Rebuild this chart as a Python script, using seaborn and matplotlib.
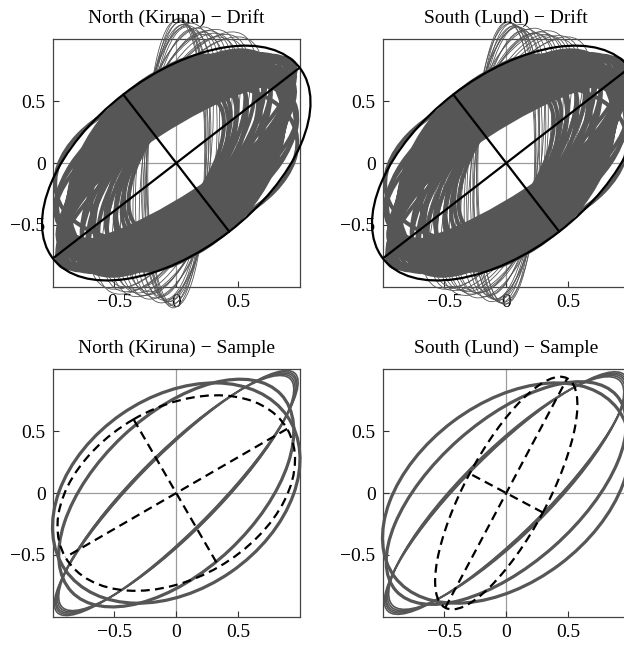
import numpy as np
import pandas as pd
import matplotlib
matplotlib.use("Agg")
import matplotlib.pyplot as plt
from matplotlib.patches import Ellipse
import seaborn as sns

# Drift band ellipses: semi-major, semi-minor, tilt of major axis (deg)
north_band_major = [1.10, 1.12, 1.09, 1.13, 1.11, 1.14, 1.10, 1.13, 1.12, 1.15, 1.11, 1.14,
                    1.12, 1.15, 1.10, 1.13, 1.11, 1.12, 1.09, 1.11, 1.08, 1.10, 1.07, 1.08,
                    1.05, 1.06, 1.04, 1.03, 1.02, 1.06, 1.05, 1.07, 1.00, 0.93, 1.08, 1.06,
                    1.25, 1.22, 1.20,
                    0.60, 0.68, 0.76, 0.84, 0.92, 1.00, 1.05, 0.65, 0.75, 0.85, 0.95,
                    1.20, 1.22, 1.18, 1.15, 1.12]
north_band_minor = [0.27, 0.285, 0.30, 0.31, 0.325, 0.34, 0.355, 0.37, 0.385, 0.40, 0.415, 0.43,
                    0.445, 0.46, 0.475, 0.49, 0.505, 0.52, 0.535, 0.55, 0.565, 0.58, 0.595, 0.61,
                    0.625, 0.64, 0.655, 0.67, 0.685, 0.50, 0.56, 0.45, 0.60, 0.60, 0.42, 0.48,
                    0.30, 0.34, 0.38,
                    0.28, 0.30, 0.31, 0.33, 0.35, 0.37, 0.40, 0.33, 0.36, 0.40, 0.44,
                    0.35, 0.40, 0.45, 0.50, 0.55]
north_band_tilt = [33, 33.5, 34, 34, 34.5, 35, 35, 35.5, 36, 36, 37, 37,
                   37.5, 38, 38.5, 39, 39.5, 40, 40, 41, 41, 42, 42, 43,
                   43, 44, 44, 45, 45, 26, 28, 27, 15, 62, 54, 51,
                   41, 40, 42,
                   60, 58, 56, 54, 52, 50, 48, 62, 60, 57, 54,
                   40, 42, 44, 45, 48]
# Drift loops: polarisation ellipses x = Ax cos t, y = Ay cos(t + phase)
north_loop_ax = [0.23, 0.24, 0.25, 0.27, 0.30, 0.35, 0.40, 0.45, 0.50, 0.55, 0.60, 0.70,
                 0.24, 0.28, 0.38, 0.52, 0.65, 0.26, 0.33, 0.43, 0.58, 0.48]
north_loop_ay = [1.17, 1.15, 1.12, 1.10, 1.08, 1.13, 1.06, 1.10, 1.05, 1.08, 1.04, 1.02,
                 1.16, 1.12, 1.09, 1.02, 1.06, 1.14, 1.11, 1.04, 1.00, 1.07]
north_loop_ph = [84, 80, 76, 72, 66, 70, 58, 62, 52, 55, 48, 45,
                 88, 78, 64, 50, 46, 82, 74, 60, 44, 57]
north_mean = (1.26, 0.70, 37.7)

south_band_major = [1.10, 1.11, 1.10, 1.13, 1.12, 1.14, 1.11, 1.13, 1.12, 1.14, 1.11, 1.14,
                    1.13, 1.15, 1.10, 1.12, 1.11, 1.12, 1.10, 1.11, 1.08, 1.10, 1.07, 1.08,
                    1.06, 1.06, 1.04, 1.03, 1.02, 1.06, 1.05, 1.07, 1.00, 0.93, 1.08, 1.06,
                    1.25, 1.22, 1.20,
                    0.61, 0.69, 0.77, 0.85, 0.93, 1.00, 1.05, 0.66, 0.76, 0.86, 0.95,
                    1.21, 1.22, 1.18, 1.15, 1.12]
south_band_minor = [0.27, 0.285, 0.30, 0.31, 0.325, 0.34, 0.355, 0.37, 0.385, 0.40, 0.415, 0.43,
                    0.445, 0.46, 0.475, 0.49, 0.505, 0.52, 0.535, 0.55, 0.565, 0.58, 0.595, 0.61,
                    0.625, 0.64, 0.655, 0.67, 0.685, 0.50, 0.56, 0.45, 0.60, 0.60, 0.42, 0.48,
                    0.30, 0.34, 0.38,
                    0.28, 0.30, 0.31, 0.33, 0.35, 0.37, 0.40, 0.33, 0.36, 0.40, 0.44,
                    0.35, 0.40, 0.45, 0.50, 0.55]
south_band_tilt = [33, 33.5, 34, 34.5, 34.5, 35, 35.5, 35.5, 36, 36.5, 37, 37,
                   37.5, 38, 38.5, 39, 39.5, 40, 40.5, 41, 41, 42, 42, 43,
                   43, 44, 44, 45, 45, 26, 28, 27, 15, 62, 54, 51,
                   41, 40, 42,
                   61, 58, 56, 54, 52, 50, 48, 63, 60, 57, 54,
                   40, 42, 44, 45, 48]
south_loop_ax = [0.23, 0.24, 0.26, 0.27, 0.31, 0.34, 0.41, 0.46, 0.50, 0.56, 0.62, 0.68,
                 0.24, 0.29, 0.37, 0.53, 0.27, 0.32, 0.44, 0.59, 0.49]
south_loop_ay = [1.14, 1.13, 1.11, 1.10, 1.07, 1.12, 1.05, 1.09, 1.04, 1.07, 1.03, 1.02,
                 1.14, 1.11, 1.08, 1.03, 1.13, 1.10, 1.05, 1.00, 1.06]
south_loop_ph = [86, 80, 75, 71, 65, 70, 57, 61, 51, 54, 47, 44,
                 88, 77, 63, 49, 83, 73, 59, 43, 56]
south_mean = (1.26, 0.70, 37.7)

# Sample ellipses: x amplitude, y amplitude, phase (deg)
north_wide_ax = [1.00, 0.95]
north_wide_ay = [0.89, 0.92]
north_wide_ph = [72, 57]
north_narrow_ax = [0.95, 0.96, 0.97, 0.975, 0.985]
north_narrow_ay = [0.95, 0.96, 0.97, 0.98, 0.99]
north_narrow_ph = [28, 27.5, 27, 26, 25.5]
north_sample_mean = (0.96, 0.79, 70.0)

south_wide_ax = [1.00, 0.97]
south_wide_ay = [0.89, 0.90]
south_wide_ph = [66, 52]
south_narrow_ax = [0.95, 0.96, 0.97, 0.975, 0.985]
south_narrow_ay = [0.94, 0.95, 0.96, 0.97, 0.98]
south_narrow_ph = [30, 29, 28.5, 27.5, 27]
south_sample_mean = (0.575, 0.94, 40.6)

titles = ["North (Kiruna) \u2212 Drift", "South (Lund) \u2212 Drift",
          "North (Kiruna) \u2212 Sample", "South (Lund) \u2212 Sample"]
tick_vals = [-0.5, 0, 0.5]
tick_labels = ["\u22120.5", "0", "0.5"]

GRAY = "#565656"

sns.set_theme(style="white")
plt.rcParams["font.family"] = ["Liberation Serif", "DejaVu Serif"]


def liss_shape(ax_, ay_, ph):
    c = ax_ * ay_ * np.cos(np.radians(ph))
    m = np.array([[ax_ ** 2, c], [c, ay_ ** 2]])
    w, v = np.linalg.eigh(m)
    a = np.sqrt(w[1])
    b = np.sqrt(max(w[0], 0.0))
    ang = np.degrees(np.arctan2(v[1, 1], v[0, 1]))
    return a, b, ang


def add_ellipse(ax, a, b, ang, color, lw, z, ls="-"):
    ax.add_patch(Ellipse((0, 0), 2 * a, 2 * b, angle=ang, fill=False, edgecolor=color,
                         linewidth=lw, linestyle=ls, zorder=z, clip_on=False))


def draw_liss(ax, axs, ays, phs, color, lw, z):
    for x_, y_, p_ in zip(axs, ays, phs):
        add_ellipse(ax, *liss_shape(x_, y_, p_), color, lw, z)


def draw_axes_form(ax, majors, minors, tilts, color, lw, z):
    for a, b, t in zip(majors, minors, tilts):
        add_ellipse(ax, a, b, t, color, lw, z)


def draw_mean(ax, a, b, ang, ls):
    add_ellipse(ax, a, b, ang, "black", 1.6, 6, ls)
    th = np.radians(ang)
    for r, phi in ((a, th), (b, th + np.pi / 2)):
        df = pd.DataFrame({"x": [-r * np.cos(phi), r * np.cos(phi)],
                           "y": [-r * np.sin(phi), r * np.sin(phi)]})
        sns.lineplot(data=df, x="x", y="y", ax=ax, sort=False, estimator=None,
                     color="black", linewidth=1.6, linestyle=ls, zorder=6)


fig = plt.figure(figsize=(6.24, 6.45), dpi=100)
W, H = 624.0, 645.0
boxes = [(52.5, 39.3), (382.5, 39.3), (52.5, 369.3), (382.5, 369.3)]
side = 247.5
axes = []
for (lx, ty) in boxes:
    axes.append(fig.add_axes([lx / W, (H - ty - side) / H, side / W, side / H]))

dashed = (0, (4, 2.4))

for ax in axes:
    ax.axhline(0, color="#9c9c9c", lw=0.9, zorder=0.5)
    ax.axvline(0, color="#9c9c9c", lw=0.9, zorder=0.5)

# drift panels
draw_axes_form(axes[0], north_band_major, north_band_minor, north_band_tilt, GRAY, 2.9, 3)
draw_liss(axes[0], north_loop_ax, north_loop_ay, north_loop_ph, GRAY, 0.6, 3)
draw_mean(axes[0], *north_mean, "-")
draw_axes_form(axes[1], south_band_major, south_band_minor, south_band_tilt, GRAY, 2.9, 3)
draw_liss(axes[1], south_loop_ax, south_loop_ay, south_loop_ph, GRAY, 0.6, 3)
draw_mean(axes[1], *south_mean, "-")

# sample panels
draw_liss(axes[2], north_narrow_ax, north_narrow_ay, north_narrow_ph, GRAY, 1.2, 3)
draw_liss(axes[2], north_wide_ax, north_wide_ay, north_wide_ph, GRAY, 2.3, 3)
draw_mean(axes[2], *liss_shape(*north_sample_mean), dashed)
draw_liss(axes[3], south_narrow_ax, south_narrow_ay, south_narrow_ph, GRAY, 1.2, 3)
draw_liss(axes[3], south_wide_ax, south_wide_ay, south_wide_ph, GRAY, 2.3, 3)
draw_mean(axes[3], *liss_shape(*south_sample_mean), dashed)

for i, ax in enumerate(axes):
    ax.set_xlim(-1, 1)
    ax.set_ylim(-1, 1)
    ax.set_xlabel("")
    ax.set_ylabel("")
    ax.set_xticks(tick_vals)
    ax.set_xticklabels(tick_labels)
    ax.set_yticks(tick_vals)
    ax.set_yticklabels(tick_labels)
    ax.tick_params(direction="in", length=4, width=0.8, colors="#333333",
                   labelsize=14, pad=5, top=False, right=False, bottom=True, left=True)
    ax.tick_params(labelcolor="black")
    for s in ax.spines.values():
        s.set_color("#444444")
        s.set_linewidth(0.9)
        s.set_visible(True)
    ax.set_title(titles[i], fontsize=14, pad=12, color="black")
    ax.grid(False)
    ax.set_facecolor("white")

fig.savefig("out.png", dpi=100)
